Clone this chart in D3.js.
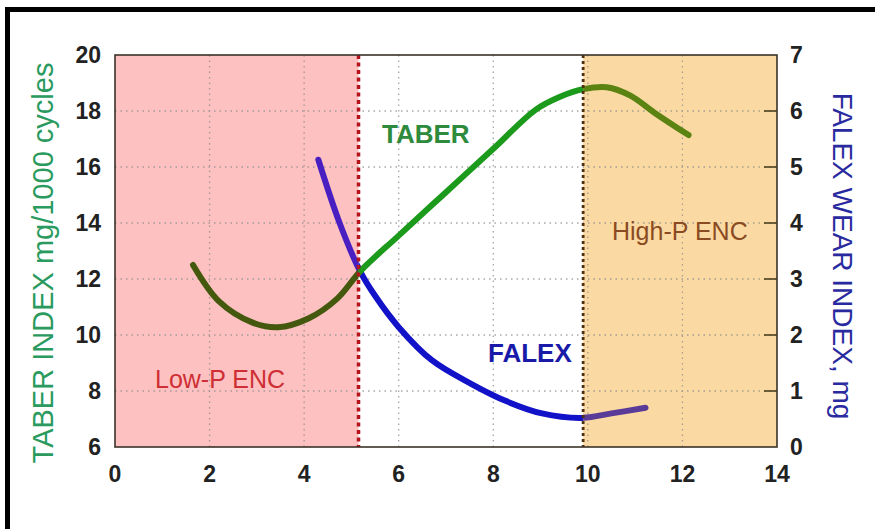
<!DOCTYPE html>
<html>
<head>
<meta charset="utf-8">
<script src="https://cdn.jsdelivr.net/npm/d3@7"></script>
<style>
  body { margin: 0; background: #fff; }
  svg { display: block; }
  text { font-family: "Liberation Sans", Arial, sans-serif; }
</style>
</head>
<body>
<svg id="chart" width="875" height="529"></svg>
<script>
// ---- data ----
const xTicks = [0, 2, 4, 6, 8, 10, 12, 14];
const leftTicks = [6, 8, 10, 12, 14, 16, 18, 20];
const rightTicks = [0, 1, 2, 3, 4, 5, 6, 7];

const taberX = [1.65, 2.2, 2.9, 3.45, 4.1, 4.7, 5.2, 6.0, 7.0, 8.0, 8.9, 9.4, 9.9, 10.4, 10.9, 11.4, 12.13];
const taberY = [12.5, 11.2, 10.45, 10.28, 10.6, 11.3, 12.3, 13.55, 15.1, 16.65, 18.05, 18.5, 18.78, 18.85, 18.55, 17.95, 17.14];

const falexX = [4.3, 4.75, 5.17, 5.5, 6.0, 6.7, 7.55, 8.27, 9.03, 9.87, 10.5, 11.22];
const falexY = [5.13, 4.0, 3.16, 2.7, 2.14, 1.55, 1.12, 0.82, 0.6, 0.52, 0.6, 0.7];

const regionBounds = [0, 5.15, 9.9, 14]; // low-P | middle | high-P
const regionLabels = ["Low-P ENC", "High-P ENC"];
const seriesLabels = ["TABER", "FALEX"];
const leftTitle = "TABER INDEX mg/1000 cycles";
const rightTitle = "FALEX WEAR INDEX, mg";

// ---- layout ----
const svg = d3.select("#chart");
const L = 115, R = 777, T = 55, B = 447;
const x = d3.scaleLinear().domain([0, 14]).range([L, R]);
const yL = d3.scaleLinear().domain([6, 20]).range([B, T]);
const yR = d3.scaleLinear().domain([0, 7]).range([B, T]);

// outer frame (left + top)
svg.append("path")
  .attr("d", `M7.5,529 L7.5,9.5 L875,9.5`)
  .attr("fill", "none").attr("stroke", "#000").attr("stroke-width", 5);

// region backgrounds
svg.append("rect").attr("x", x(regionBounds[0])).attr("y", T)
  .attr("width", x(regionBounds[1]) - x(regionBounds[0])).attr("height", B - T)
  .attr("fill", "#fcc1c0");
svg.append("rect").attr("x", x(regionBounds[2])).attr("y", T)
  .attr("width", x(regionBounds[3]) - x(regionBounds[2])).attr("height", B - T)
  .attr("fill", "#fbd9a3");

// grid
const grid = svg.append("g").attr("stroke", "#8a8a8a").attr("stroke-width", 1.3)
  .attr("stroke-dasharray", "1.5,4").attr("opacity", 0.75);
xTicks.slice(1, -1).forEach(v => {
  grid.append("line").attr("x1", x(v)).attr("x2", x(v)).attr("y1", T).attr("y2", B);
});
leftTicks.slice(1, -1).forEach(v => {
  grid.append("line").attr("x1", L).attr("x2", R).attr("y1", yL(v)).attr("y2", yL(v));
});

// clip paths for each region
const defs = svg.append("defs");
[0, 1, 2].forEach(i => {
  defs.append("clipPath").attr("id", "reg" + i).append("rect")
    .attr("x", i === 0 ? 0 : x(regionBounds[i]))
    .attr("y", 0)
    .attr("width", i === 2 ? 875 : x(regionBounds[i + 1]) - (i === 0 ? 0 : x(regionBounds[i])))
    .attr("height", 529);
});

const taberLine = d3.line().curve(d3.curveCatmullRom.alpha(0.5))
  .x(d => x(d[0])).y(d => yL(d[1]));
const falexLine = d3.line().curve(d3.curveCatmullRom.alpha(0.5))
  .x(d => x(d[0])).y(d => yR(d[1]));
const taberData = taberX.map((v, i) => [v, taberY[i]]);
const falexData = falexX.map((v, i) => [v, falexY[i]]);

const taberColors = ["#44590e", "#1c9a1c", "#5b8312"];
const falexColors = ["#4a1fc2", "#1212c8", "#5a3c98"];
[0, 1, 2].forEach(i => {
  svg.append("path").attr("d", falexLine(falexData))
    .attr("clip-path", `url(#reg${i})`)
    .attr("fill", "none").attr("stroke", falexColors[i])
    .attr("stroke-width", 6).attr("stroke-linecap", "round");
});
[0, 1, 2].forEach(i => {
  svg.append("path").attr("d", taberLine(taberData))
    .attr("clip-path", `url(#reg${i})`)
    .attr("fill", "none").attr("stroke", taberColors[i])
    .attr("stroke-width", 6).attr("stroke-linecap", "round");
});

// region boundary dotted lines
svg.append("line").attr("x1", x(regionBounds[1])).attr("x2", x(regionBounds[1]))
  .attr("y1", T).attr("y2", B)
  .attr("stroke", "#b3141c").attr("stroke-width", 3.5).attr("stroke-dasharray", "4,3.5");
svg.append("line").attr("x1", x(regionBounds[2])).attr("x2", x(regionBounds[2]))
  .attr("y1", T).attr("y2", B)
  .attr("stroke", "#4a3212").attr("stroke-width", 2.8).attr("stroke-dasharray", "3,3");

// plot border
svg.append("rect").attr("x", L).attr("y", T).attr("width", R - L).attr("height", B - T)
  .attr("fill", "none").attr("stroke", "#3a3328").attr("stroke-width", 1.6);

// right-axis inner ticks
rightTicks.slice(1, -1).forEach(v => {
  svg.append("line").attr("x1", R - 13).attr("x2", R).attr("y1", yR(v)).attr("y2", yR(v))
    .attr("stroke", "#4a4020").attr("stroke-width", 1.6);
});

// tick labels
const tickStyle = s => s.attr("font-size", 23).attr("font-weight", "bold").attr("fill", "#222");
svg.append("g").selectAll("text").data(leftTicks).join("text")
  .attr("x", 101).attr("y", d => yL(d)).attr("dy", "0.36em")
  .attr("text-anchor", "end").text(d => d).call(tickStyle);
svg.append("g").selectAll("text").data(rightTicks).join("text")
  .attr("x", 790).attr("y", d => yR(d)).attr("dy", "0.36em")
  .attr("text-anchor", "start").text(d => d).call(tickStyle);
svg.append("g").selectAll("text").data(xTicks).join("text")
  .attr("x", d => x(d)).attr("y", 482)
  .attr("text-anchor", "middle").text(d => d).call(tickStyle);

// axis titles
svg.append("text").attr("transform", "translate(53,263) rotate(-90)")
  .attr("text-anchor", "middle").attr("font-size", 29).attr("fill", "#2a9a5e")
  .text(leftTitle);
svg.append("text").attr("transform", "translate(833,256) rotate(90)")
  .attr("text-anchor", "middle").attr("font-size", 28).attr("fill", "#2a2aa0")
  .text(rightTitle);

// series labels
svg.append("text").attr("x", 382).attr("y", 143).attr("font-size", 26)
  .attr("font-weight", "bold").attr("fill", "#2e8a3c").text(seriesLabels[0]);
svg.append("text").attr("x", 488).attr("y", 362).attr("font-size", 26)
  .attr("font-weight", "bold").attr("fill", "#1a1aa8").text(seriesLabels[1]);

// region labels
svg.append("text").attr("x", 155).attr("y", 388).attr("font-size", 25)
  .attr("fill", "#cf2f34").text(regionLabels[0]);
svg.append("text").attr("x", 612).attr("y", 240).attr("font-size", 25)
  .attr("fill", "#8a4b22").text(regionLabels[1]);
</script>
</body>
</html>
